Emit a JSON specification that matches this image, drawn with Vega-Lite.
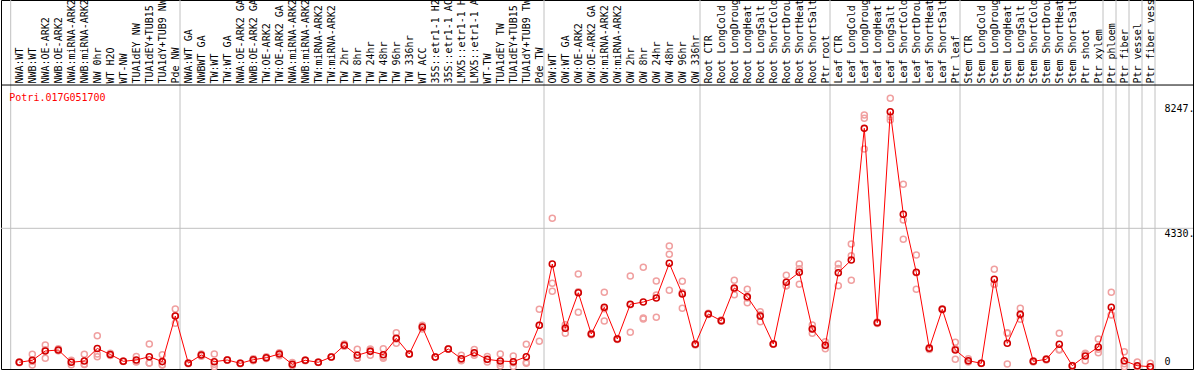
{
  "$schema": "https://vega.github.io/schema/vega-lite/v6.json",
  "autosize": {"type": "none"},
  "padding": {"left": 1, "top": 0, "right": 1, "bottom": 1},
  "width": 1192,
  "height": 369,
  "background": "white",
  "config": {"view": {"stroke": "black", "strokeWidth": 1}, "font": "DejaVu Sans Mono"},
  "data": {"values": [
    {"sample": "NWA:WT", "mean": 138, "r1": 120, "r2": 150, "r3": 145, "sep": false},
    {"sample": "NWB:WT", "mean": 200, "r1": 390, "r2": 55, "r3": 160, "sep": false},
    {"sample": "NWA:OE-ARK2", "mean": 491, "r1": 679, "r2": 263, "r3": 530, "sep": false},
    {"sample": "NWB:OE-ARK2", "mean": 522, "r1": 560, "r2": 500, "r3": 505, "sep": false},
    {"sample": "NWA:miRNA-ARK2", "mean": 138, "r1": 60, "r2": 200, "r3": 155, "sep": false},
    {"sample": "NWB:miRNA-ARK2", "mean": 178, "r1": 388, "r2": 75, "r3": 71, "sep": false},
    {"sample": "NW 0hr", "mean": 570, "r1": 970, "r2": 400, "r3": 310, "sep": false},
    {"sample": "WT H2O", "mean": 383, "r1": 420, "r2": 350, "r3": 380, "sep": false},
    {"sample": "WT-NW", "mean": 169, "r1": 160, "r2": 175, "r3": 172, "sep": false},
    {"sample": "TUA1dEY NW", "mean": 210, "r1": 320, "r2": 150, "r3": 160, "sep": false},
    {"sample": "TUA1dEY+TUB15 NW", "mean": 313, "r1": 710, "r2": 115, "r3": 115, "sep": false},
    {"sample": "TUA1dY+TUB9 NW", "mean": 160, "r1": 370, "r2": 60, "r3": 50, "sep": false},
    {"sample": "Pde NW", "mean": 1586, "r1": 1805, "r2": 1358, "r3": 1595, "sep": true},
    {"sample": "NWA:WT GA", "mean": 110, "r1": 95, "r2": 125, "r3": 110, "sep": false},
    {"sample": "NWBWT GA", "mean": 366, "r1": 400, "r2": 330, "r3": 368, "sep": false},
    {"sample": "TW:WT", "mean": 157, "r1": 397, "r2": 0, "r3": 74, "sep": false},
    {"sample": "TW:WT GA", "mean": 210, "r1": 200, "r2": 220, "r3": 210, "sep": false},
    {"sample": "NWA:OE-ARK2 GA", "mean": 106, "r1": 95, "r2": 110, "r3": 113, "sep": false},
    {"sample": "NWB:OE-ARK2 GA", "mean": 219, "r1": 250, "r2": 190, "r3": 217, "sep": false},
    {"sample": "TW:OE-ARK2", "mean": 282, "r1": 310, "r2": 260, "r3": 276, "sep": false},
    {"sample": "TW:OE-ARK2 GA", "mean": 397, "r1": 440, "r2": 340, "r3": 411, "sep": false},
    {"sample": "NWA:miRNA-ARK2 GA", "mean": 75, "r1": 130, "r2": 40, "r3": 55, "sep": false},
    {"sample": "NWB:miRNA-ARK2 GA", "mean": 200, "r1": 190, "r2": 210, "r3": 200, "sep": false},
    {"sample": "TW:miRNA-ARK2", "mean": 138, "r1": 130, "r2": 145, "r3": 139, "sep": false},
    {"sample": "TW:miRNA-ARK2 GA", "mean": 303, "r1": 310, "r2": 295, "r3": 304, "sep": false},
    {"sample": "TW 2hr", "mean": 669, "r1": 710, "r2": 640, "r3": 657, "sep": false},
    {"sample": "TW 8hr", "mean": 356, "r1": 544, "r2": 263, "r3": 261, "sep": false},
    {"sample": "TW 24hr", "mean": 481, "r1": 554, "r2": 357, "r3": 532, "sep": false},
    {"sample": "TW 48hr", "mean": 376, "r1": 564, "r2": 263, "r3": 301, "sep": false},
    {"sample": "TW 96hr", "mean": 888, "r1": 1064, "r2": 732, "r3": 868, "sep": false},
    {"sample": "TW 336hr", "mean": 397, "r1": 400, "r2": 390, "r3": 401, "sep": false},
    {"sample": "WT ACC", "mean": 1242, "r1": 1300, "r2": 1180, "r3": 1246, "sep": false},
    {"sample": "35S::etr1-1 H2O", "mean": 303, "r1": 300, "r2": 305, "r3": 304, "sep": false},
    {"sample": "35S::etr1-1 ACC", "mean": 554, "r1": 560, "r2": 545, "r3": 557, "sep": false},
    {"sample": "LMX5::etr1-1 H2O", "mean": 250, "r1": 356, "r2": 188, "r3": 206, "sep": false},
    {"sample": "LMX5::etr1-1 ACC", "mean": 438, "r1": 540, "r2": 360, "r3": 414, "sep": false},
    {"sample": "WT-TW", "mean": 231, "r1": 320, "r2": 150, "r3": 223, "sep": false},
    {"sample": "TUA1dEY TW", "mean": 178, "r1": 397, "r2": 106, "r3": 31, "sep": false},
    {"sample": "TUA1dEY+TUB15 TW", "mean": 157, "r1": 335, "r2": 10, "r3": 126, "sep": false},
    {"sample": "TUA1dY+TUB9 TW", "mean": 313, "r1": 700, "r2": 130, "r3": 109, "sep": false},
    {"sample": "Pde TW", "mean": 1295, "r1": 1796, "r2": 795, "r3": 1294, "sep": true},
    {"sample": "OW:WT", "mean": 3213, "r1": 4643, "r2": 2609, "r3": 2359, "sep": false},
    {"sample": "OW:WT GA", "mean": 1201, "r1": 1240, "r2": 1050, "r3": 1313, "sep": false},
    {"sample": "OW:OE-ARK2", "mean": 2315, "r1": 2900, "r2": 1702, "r3": 2343, "sep": false},
    {"sample": "OW:OE-ARK2 GA", "mean": 1023, "r1": 1000, "r2": 1050, "r3": 1019, "sep": false},
    {"sample": "OW:miRNA-ARK2", "mean": 1858, "r1": 2328, "r2": 1430, "r3": 1816, "sep": false},
    {"sample": "OW:miRNA-ARK2 GA", "mean": 867, "r1": 850, "r2": 880, "r3": 871, "sep": false},
    {"sample": "OW 2hr", "mean": 1952, "r1": 2838, "r2": 1076, "r3": 1942, "sep": false},
    {"sample": "OW 8hr", "mean": 2024, "r1": 3110, "r2": 1524, "r3": 1492, "sep": false},
    {"sample": "OW 24hr", "mean": 2149, "r1": 2681, "r2": 2243, "r3": 1545, "sep": false},
    {"sample": "OW 48hr", "mean": 3235, "r1": 3776, "r2": 3517, "r3": 2390, "sep": false},
    {"sample": "OW 96hr", "mean": 2274, "r1": 2671, "r2": 1827, "r3": 2324, "sep": false},
    {"sample": "OW 336hr", "mean": 701, "r1": 680, "r2": 720, "r3": 703, "sep": true},
    {"sample": "Root CTR", "mean": 1649, "r1": 1630, "r2": 1670, "r3": 1647, "sep": false},
    {"sample": "Root LongCold", "mean": 1439, "r1": 1420, "r2": 1460, "r3": 1437, "sep": false},
    {"sample": "Root LongDrought", "mean": 2462, "r1": 2703, "r2": 2253, "r3": 2430, "sep": false},
    {"sample": "Root LongHeat", "mean": 2190, "r1": 2421, "r2": 2003, "r3": 2146, "sep": false},
    {"sample": "Root LongSalt", "mean": 1586, "r1": 1721, "r2": 1408, "r3": 1629, "sep": false},
    {"sample": "Root ShortCold", "mean": 710, "r1": 700, "r2": 720, "r3": 710, "sep": false},
    {"sample": "Root ShortDrought", "mean": 2641, "r1": 2860, "r2": 2534, "r3": 2529, "sep": false},
    {"sample": "Root ShortHeat", "mean": 2953, "r1": 3213, "r2": 2578, "r3": 3068, "sep": false},
    {"sample": "Root ShortSalt", "mean": 1180, "r1": 1305, "r2": 1045, "r3": 1190, "sep": false},
    {"sample": "Ptr root", "mean": 669, "r1": 782, "r2": 563, "r3": 662, "sep": true},
    {"sample": "Leaf CTR", "mean": 2941, "r1": 3213, "r2": 2534, "r3": 3076, "sep": false},
    {"sample": "Leaf LongCold", "mean": 3338, "r1": 3839, "r2": 3473, "r3": 2703, "sep": false},
    {"sample": "Leaf LongDrought", "mean": 7458, "r1": 7875, "r2": 7771, "r3": 6811, "sep": false},
    {"sample": "Leaf LongHeat", "mean": 1377, "r1": 1350, "r2": 1400, "r3": 1381, "sep": false},
    {"sample": "Leaf LongSalt", "mean": 7978, "r1": 8397, "r2": 7822, "r3": 7718, "sep": false},
    {"sample": "Leaf ShortCold", "mean": 4768, "r1": 5707, "r2": 4590, "r3": 3986, "sep": false},
    {"sample": "Leaf ShortDrought", "mean": 2953, "r1": 3495, "r2": 2421, "r3": 2943, "sep": false},
    {"sample": "Leaf ShortHeat", "mean": 575, "r1": 600, "r2": 540, "r3": 585, "sep": false},
    {"sample": "Leaf ShortSalt", "mean": 1796, "r1": 1780, "r2": 1810, "r3": 1798, "sep": false},
    {"sample": "Ptr leaf", "mean": 522, "r1": 763, "r2": 231, "r3": 572, "sep": true},
    {"sample": "Stem CTR", "mean": 188, "r1": 250, "r2": 144, "r3": 170, "sep": false},
    {"sample": "Stem LongCold", "mean": 106, "r1": 100, "r2": 110, "r3": 108, "sep": false},
    {"sample": "Stem LongDrought", "mean": 2734, "r1": 3047, "r2": 2587, "r3": 2568, "sep": false},
    {"sample": "Stem LongHeat", "mean": 732, "r1": 1064, "r2": 84, "r3": 1048, "sep": false},
    {"sample": "Stem LongSalt", "mean": 1639, "r1": 1827, "r2": 1483, "r3": 1607, "sep": false},
    {"sample": "Stem ShortCold", "mean": 169, "r1": 190, "r2": 150, "r3": 167, "sep": false},
    {"sample": "Stem ShortDrought", "mean": 231, "r1": 250, "r2": 210, "r3": 233, "sep": false},
    {"sample": "Stem ShortHeat", "mean": 701, "r1": 1045, "r2": 522, "r3": 536, "sep": false},
    {"sample": "Stem ShortSalt", "mean": 31, "r1": 20, "r2": 40, "r3": 33, "sep": false},
    {"sample": "Ptr shoot", "mean": 335, "r1": 397, "r2": 188, "r3": 420, "sep": false},
    {"sample": "Ptr xylem", "mean": 616, "r1": 867, "r2": 438, "r3": 543, "sep": true},
    {"sample": "Ptr phloem", "mean": 1858, "r1": 2328, "r2": 1617, "r3": 1629, "sep": true},
    {"sample": "Ptr fiber", "mean": 188, "r1": 470, "r2": 0, "r3": 94, "sep": true},
    {"sample": "Ptr vessel", "mean": 31, "r1": 144, "r2": 0, "r3": 0, "sep": true},
    {"sample": "Ptr fiber vessel", "mean": 0, "r1": 106, "r2": 0, "r3": 0, "sep": true}
  ]},
  "layer": [
    {
      "transform": [{"filter": "datum.sep"}],
      "mark": {"type": "rule", "color": "#c0c0c0", "strokeWidth": 1, "xOffset": 4.7},
      "encoding": {
        "x": {
          "field": "sample", "type": "nominal",
          "scale": {"type": "point", "padding": 0, "range": [18.3, 1149.3], "domain": ["NWA:WT","NWB:WT","NWA:OE-ARK2","NWB:OE-ARK2","NWA:miRNA-ARK2","NWB:miRNA-ARK2","NW 0hr","WT H2O","WT-NW","TUA1dEY NW","TUA1dEY+TUB15 NW","TUA1dY+TUB9 NW","Pde NW","NWA:WT GA","NWBWT GA","TW:WT","TW:WT GA","NWA:OE-ARK2 GA","NWB:OE-ARK2 GA","TW:OE-ARK2","TW:OE-ARK2 GA","NWA:miRNA-ARK2 GA","NWB:miRNA-ARK2 GA","TW:miRNA-ARK2","TW:miRNA-ARK2 GA","TW 2hr","TW 8hr","TW 24hr","TW 48hr","TW 96hr","TW 336hr","WT ACC","35S::etr1-1 H2O","35S::etr1-1 ACC","LMX5::etr1-1 H2O","LMX5::etr1-1 ACC","WT-TW","TUA1dEY TW","TUA1dEY+TUB15 TW","TUA1dY+TUB9 TW","Pde TW","OW:WT","OW:WT GA","OW:OE-ARK2","OW:OE-ARK2 GA","OW:miRNA-ARK2","OW:miRNA-ARK2 GA","OW 2hr","OW 8hr","OW 24hr","OW 48hr","OW 96hr","OW 336hr","Root CTR","Root LongCold","Root LongDrought","Root LongHeat","Root LongSalt","Root ShortCold","Root ShortDrought","Root ShortHeat","Root ShortSalt","Ptr root","Leaf CTR","Leaf LongCold","Leaf LongDrought","Leaf LongHeat","Leaf LongSalt","Leaf ShortCold","Leaf ShortDrought","Leaf ShortHeat","Leaf ShortSalt","Ptr leaf","Stem CTR","Stem LongCold","Stem LongDrought","Stem LongHeat","Stem LongSalt","Stem ShortCold","Stem ShortDrought","Stem ShortHeat","Stem ShortSalt","Ptr shoot","Ptr xylem","Ptr phloem","Ptr fiber","Ptr vessel","Ptr fiber vessel"]},
          "axis": {
            "orient": "top", "offset": -85, "title": null, "ticks": false, "grid": false, "domain": false,
            "labelAngle": 270, "labelAlign": "left", "labelBaseline": "middle", "labelPadding": 2,
            "labelFont": "DejaVu Sans Mono", "labelFontSize": 10, "labelColor": "black",
            "labelOverlap": false, "labelLimit": 0, "labelBound": false, "labelFlush": false, "zindex": 1
          }
        }
      }
    },
    {
      "data": {"values": [{"first": "NWA:WT"}]},
      "mark": {"type": "rule", "color": "#c0c0c0", "strokeWidth": 1, "xOffset": -8.6},
      "encoding": {"x": {"field": "first", "type": "nominal"}}
    },
    {
      "data": {"values": [{"grid": 4330}]},
      "mark": {"type": "rule", "color": "#c0c0c0", "strokeWidth": 1},
      "encoding": {"y": {"field": "grid", "type": "quantitative"}}
    },
    {
      "data": {"values": [{"header": 8813}]},
      "mark": {"type": "rule", "color": "black", "strokeWidth": 1},
      "encoding": {"y": {"field": "header", "type": "quantitative"}}
    },
    {
      "transform": [{"fold": ["r1", "r2", "r3"], "as": ["rep", "value"]}],
      "mark": {"type": "point", "filled": false, "color": "#f0a0a0", "strokeWidth": 1.5, "size": 36, "opacity": 1},
      "encoding": {
        "x": {"field": "sample", "type": "nominal"},
        "y": {"field": "value", "type": "quantitative"}
      }
    },
    {
      "mark": {"type": "line", "color": "#ff0000", "strokeWidth": 1},
      "encoding": {
        "x": {"field": "sample", "type": "nominal"},
        "y": {"field": "mean", "type": "quantitative"}
      }
    },
    {
      "mark": {"type": "point", "filled": false, "color": "#d00000", "strokeWidth": 1.6, "size": 36, "opacity": 1},
      "encoding": {
        "x": {"field": "sample", "type": "nominal"},
        "y": {
          "field": "mean", "type": "quantitative",
          "scale": {"domain": [-72, 11473], "nice": false, "zero": false},
          "axis": {
            "orient": "right", "offset": -29, "values": [0, 4330, 8247],
            "labelExpr": "datum.value == 0 ? '0' : datum.value + '.'",
            "labelAlign": "left",
            "labelBaseline": {"condition": {"test": "datum.value == 0", "value": "bottom"}, "value": "top"},
            "ticks": false, "tickSize": 0, "labelPadding": 0, "domain": false, "grid": false, "title": null,
            "labelFont": "DejaVu Sans Mono", "labelFontSize": 10, "labelColor": "black"
          }
        }
      }
    },
    {
      "data": {"values": [{"gene": "Potri.017G051700", "first": "NWA:WT", "pos": 8322}]},
      "mark": {"type": "text", "color": "#ff0000", "font": "DejaVu Sans Mono", "fontSize": 10, "align": "left", "baseline": "alphabetic", "dx": -10},
      "encoding": {
        "x": {"field": "first", "type": "nominal"},
        "y": {"field": "pos", "type": "quantitative"},
        "text": {"field": "gene"}
      }
    }
  ]
}
